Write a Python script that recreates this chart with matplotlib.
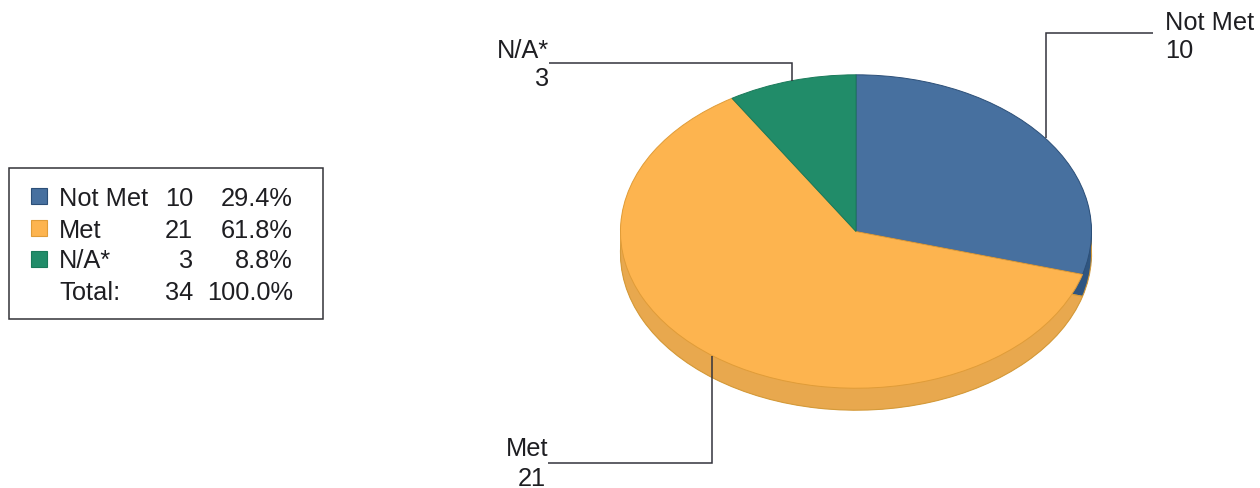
import matplotlib
matplotlib.use("Agg")
import matplotlib.pyplot as plt
from matplotlib.patches import Rectangle

categories = ["Not Met", "Met", "N/A*"]
counts = [10, 21, 3]
percents = ["29.4%", "61.8%", "8.8%"]
total_label = "Total:"
total_count = "34"
total_percent = "100.0%"
top_colors = ["#47709F", "#FDB44F", "#218C69"]
side_colors = ["#2F5580", "#E8A84E", "#166B50"]
edge_colors = ["#2C4F78", "#E09C38", "#1A7A5A"]

W, H = 1260, 489
plt.rcParams["font.family"] = ["Liberation Sans", "DejaVu Sans"]
fig = plt.figure(figsize=(W / 100, H / 100), dpi=100, facecolor="white")

# overlay in pixel coordinates for legend and leader lines
ov = fig.add_axes([0, 0, 1, 1], zorder=3)
ov.set_xlim(0, W)
ov.set_ylim(H, 0)
ov.axis("off")
ov.patch.set_alpha(0)

# pie: axes box spans the elliptical face; radius 1 fills the box
cx, cy, rx, ry, depth = 856, 232.5, 236, 157, 22
ax = fig.add_axes([(cx - rx) / W, 1 - (cy + ry + depth) / H, 2 * rx / W, (2 * ry + depth) / H], zorder=2)
d = 2 * depth / (2 * ry)
for k in range(depth, 0, -1):
    off = k / depth * d
    ax.pie(counts, colors=side_colors, startangle=90, counterclock=False,
           center=(0, -off), radius=1, wedgeprops=dict(linewidth=0))
ax.pie(counts, colors=side_colors, startangle=90, counterclock=False,
       center=(0, -d), radius=1, wedgeprops=dict(linewidth=0.8, edgecolor="#D49A3A"))
wedges, _ = ax.pie(counts, colors=top_colors, startangle=90, counterclock=False,
                   center=(0, 0), radius=1)
for w, e in zip(wedges, edge_colors):
    w.set_edgecolor(e)
    w.set_linewidth(0.7)
ax.set_aspect("auto")
ax.set_xlim(-1.002, 1.002)
ax.set_ylim(-1 - d - 0.002, 1.002)
ax.axis("off")

# leader lines
line_kw = dict(color="#33333C", lw=1.1, solid_capstyle="butt", solid_joinstyle="miter")
ov.plot([1153, 1046, 1046], [33.5, 33.5, 139], **line_kw)
ov.plot([549, 792, 792], [63.5, 63.5, 82], **line_kw)
ov.plot([548, 712, 712], [463.5, 463.5, 357], **line_kw)

# callout labels
fs = 18.3
tc = "#1E1E22"
ov.text(1165, 22.5, categories[0], fontsize=fs, color=tc, ha="left", va="center")
ov.text(1165, 50.5, str(counts[0]), fontsize=fs, color=tc, ha="left", va="center")
ov.text(549, 50.5, categories[2], fontsize=fs, color=tc, ha="right", va="center")
ov.text(549, 79.5, str(counts[2]), fontsize=fs, color=tc, ha="right", va="center")
ov.text(548, 448.5, categories[1], fontsize=fs, color=tc, ha="right", va="center")
ov.text(546, 478.5, str(counts[1]), fontsize=fs, color=tc, ha="right", va="center")

# legend table
ov.add_patch(Rectangle((9, 168.5), 314, 151, fc="white", ec="#333338", lw=1.1))
rows_y = [198.5, 230.5, 261.5, 293.5]
for i, y in enumerate(rows_y[:3]):
    ov.add_patch(Rectangle((31, y - 9.5), 16, 16, fc=top_colors[i], ec=edge_colors[i], lw=0.8))
    ov.text(59, y, categories[i], fontsize=fs, color=tc, ha="left", va="center")
    ov.text(193, y, str(counts[i]), fontsize=fs, color=tc, ha="right", va="center")
    ov.text(293, y, percents[i], fontsize=fs, color=tc, ha="right", va="center")
ov.text(59, rows_y[3], total_label, fontsize=fs, color=tc, ha="left", va="center")
ov.text(193, rows_y[3], total_count, fontsize=fs, color=tc, ha="right", va="center")
ov.text(293, rows_y[3], total_percent, fontsize=fs, color=tc, ha="right", va="center")

fig.savefig("out.png", dpi=100, facecolor="white")
